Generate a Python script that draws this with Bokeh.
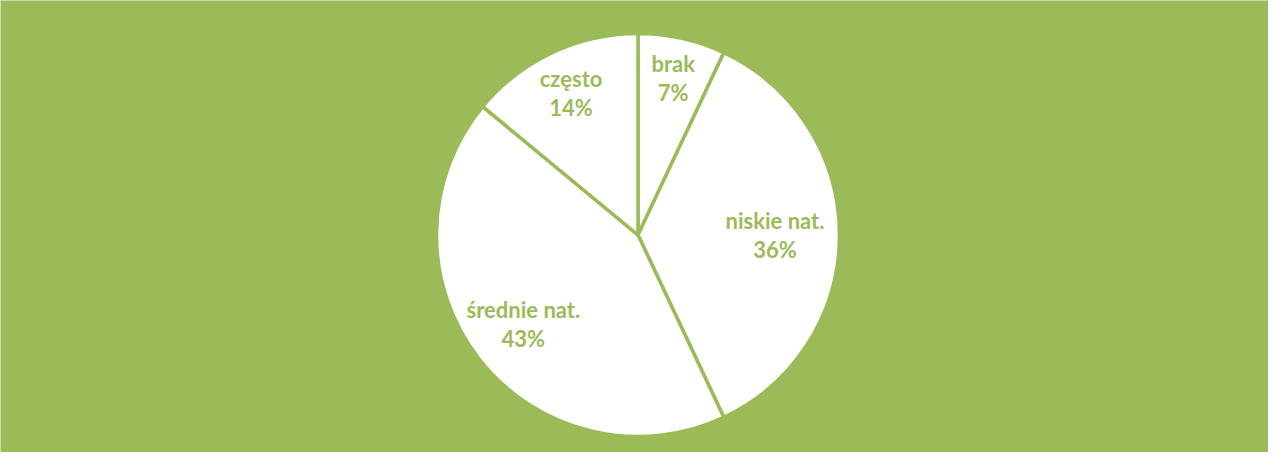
import math
from bokeh.plotting import figure
from bokeh.models import ColumnDataSource, Range1d
from bokeh.core.properties import value
from bokeh.embed import file_html
from bokeh.resources import INLINE

# ---- data ----
categories = ["brak", "niskie nat.", "średnie nat.", "często"]
shares = [7, 36, 43, 14]

# ---- style / layout ----
GREEN = "#9BBB59"
W, H = 1268, 452
CX, CY = 637.5, 217.5      # pie centre (data units = px)
R = 201.5
label_r = [0.80, 0.68, 0.72, 0.78]   # radial placement of labels (fraction of radius)

total = float(sum(shares))
starts, ends, lx, ly, texts = [], [], [], [], []
cum = 0.0
for cat, v, fr in zip(categories, shares, label_r):
    a0 = math.pi / 2 - 2 * math.pi * cum / total
    cum += v
    a1 = math.pi / 2 - 2 * math.pi * cum / total
    starts.append(a0)
    ends.append(a1)
    mid = (a0 + a1) / 2
    lx.append(CX + fr * R * math.cos(mid))
    ly.append(CY + fr * R * math.sin(mid))
    texts.append(f"{cat}\n{round(100 * v / total):d}%")

wsrc = ColumnDataSource(dict(start=starts, end=ends, cat=categories, val=shares))
tsrc = ColumnDataSource(dict(x=lx, y=ly, text=texts))

p = figure(width=W, height=H, output_backend="svg", toolbar_location=None,
           x_range=Range1d(0, W), y_range=Range1d(0, H),
           min_border=0, outline_line_color=None)
p.axis.visible = False
p.grid.visible = False
p.background_fill_color = GREEN
p.border_fill_color = GREEN

p.wedge(x=CX, y=CY, radius=R, start_angle="start", end_angle="end",
        direction="clock", source=wsrc,
        fill_color="white", line_color=GREEN, line_width=3.5)

p.text(x="x", y="y", text="text", source=tsrc,
       text_font=value("Lato"), text_font_style="bold", text_font_size="22px",
       text_color=GREEN, text_align="center", text_baseline="middle",
       text_line_height=1.07)

open("out.html", "w").write(file_html(p, INLINE))
